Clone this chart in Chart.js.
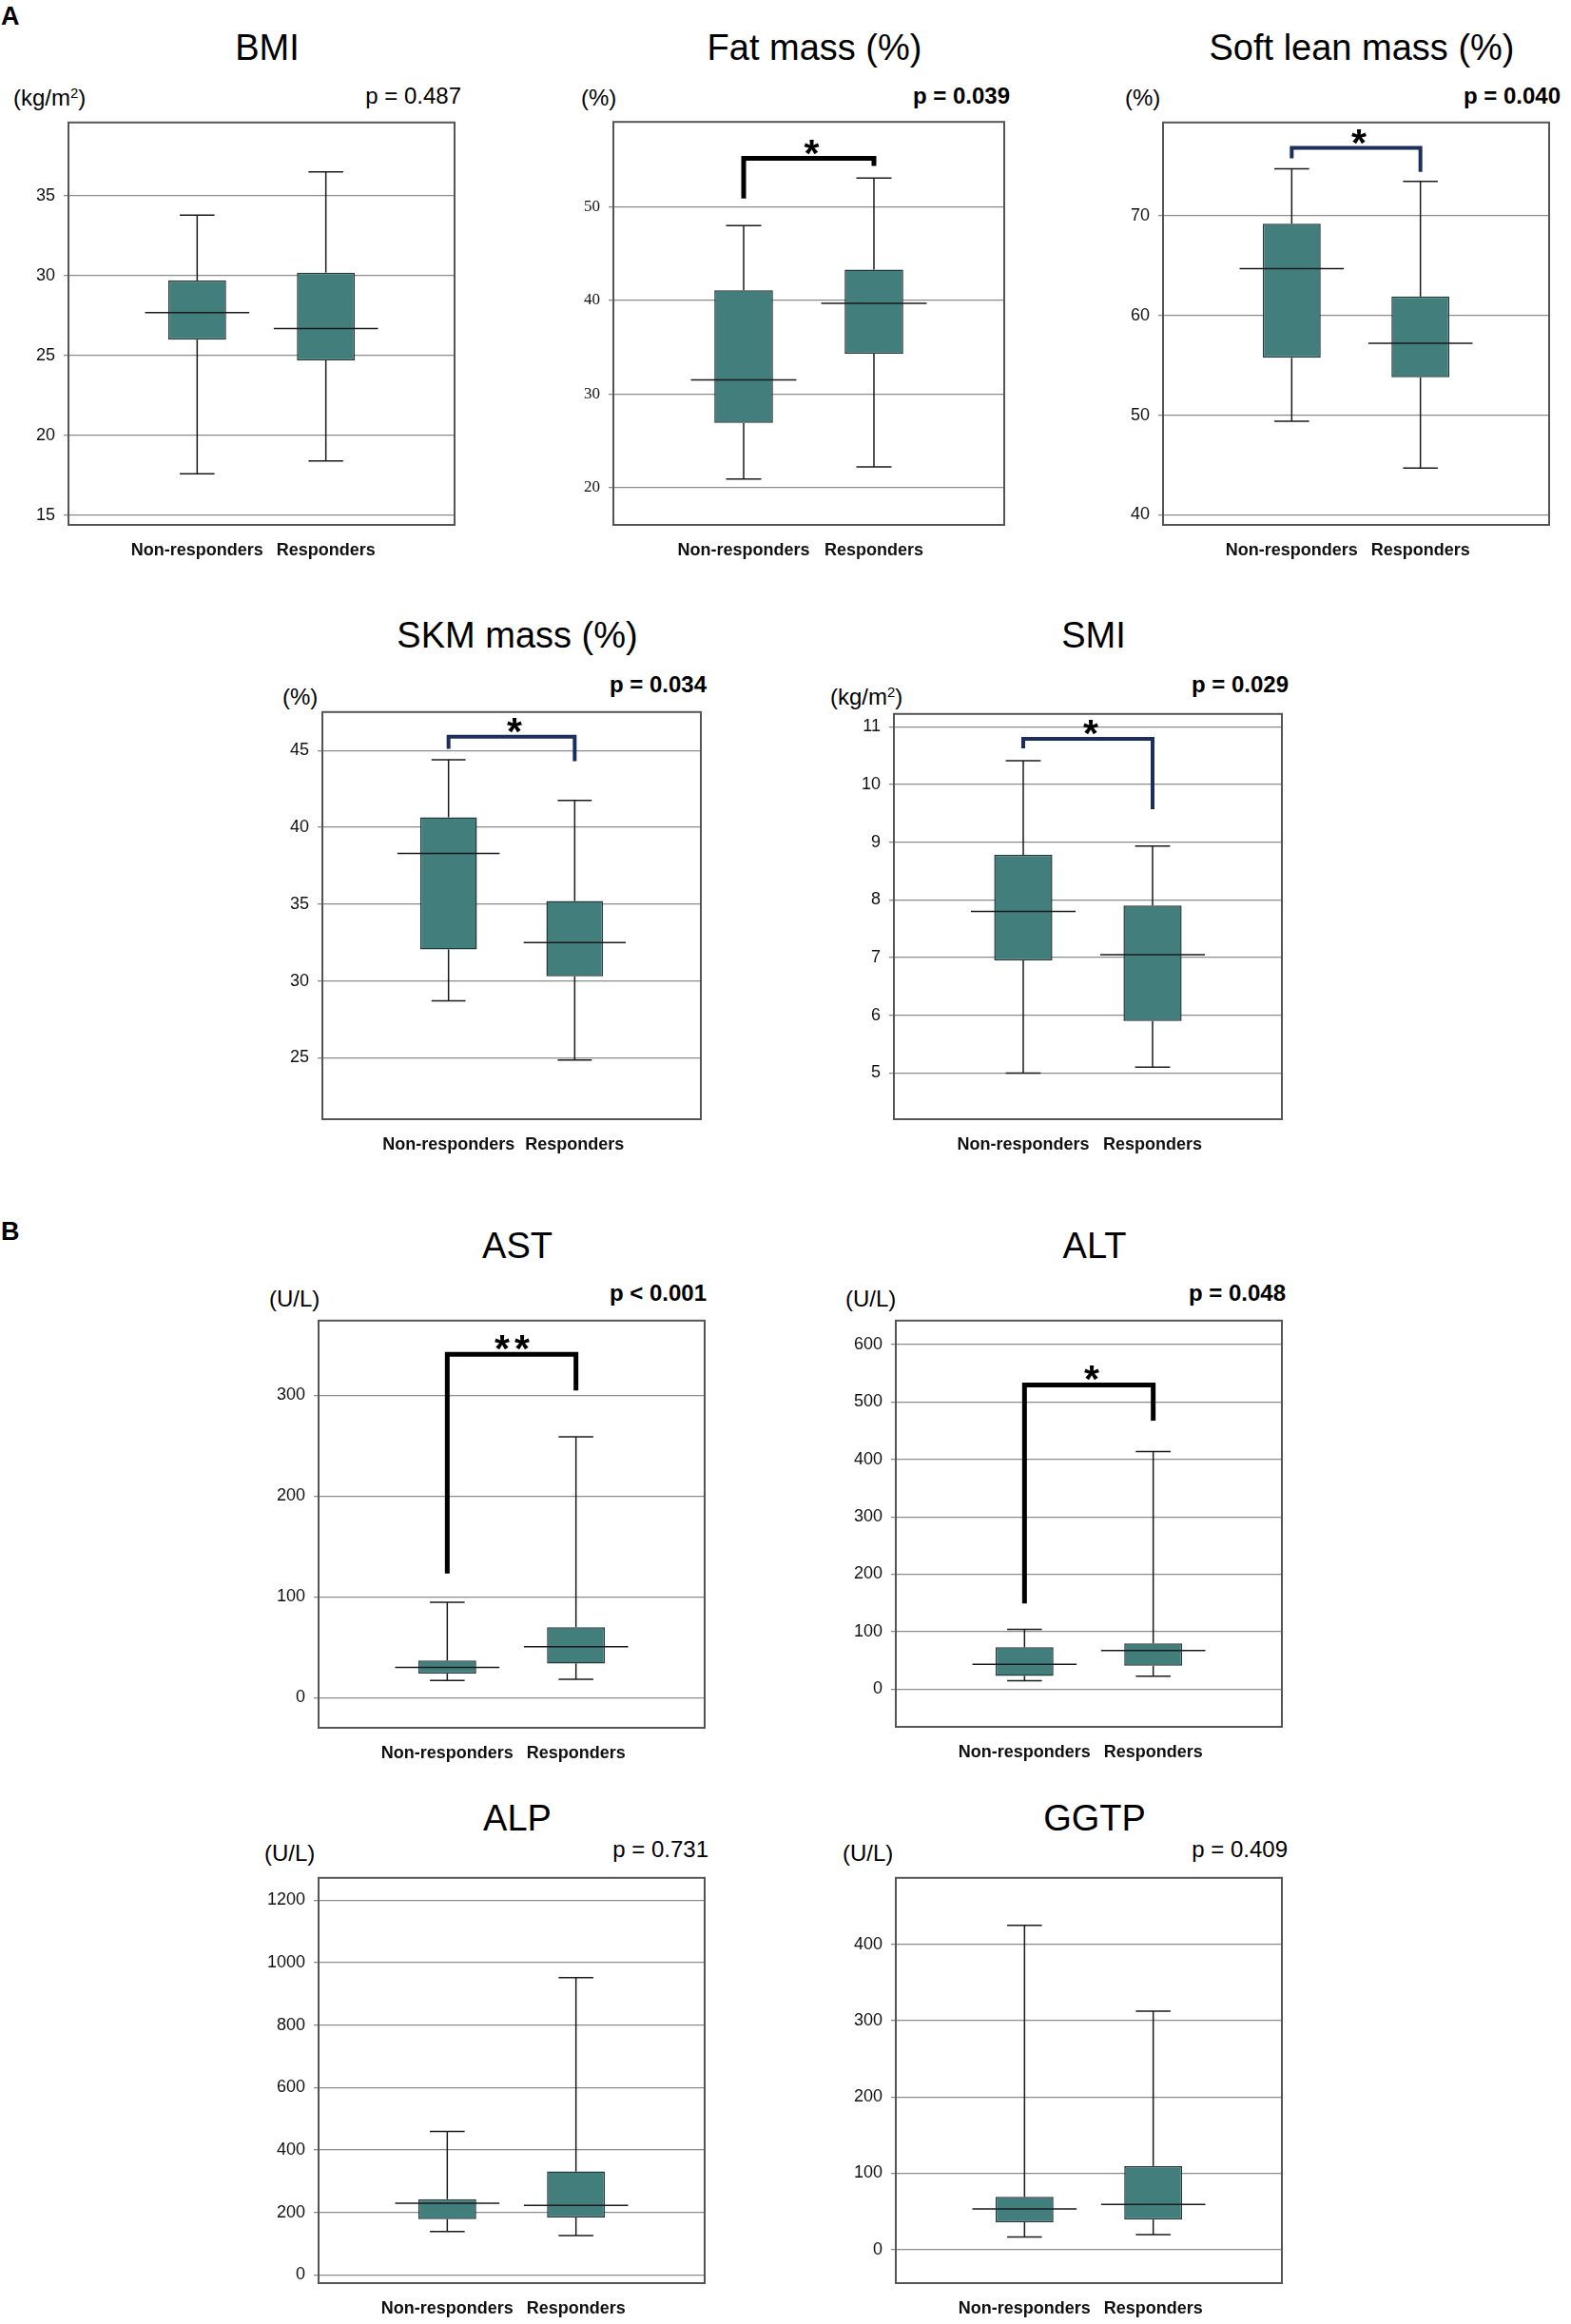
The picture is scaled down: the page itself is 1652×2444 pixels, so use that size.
<!DOCTYPE html>
<html>
<head>
<meta charset="utf-8">
<title>Body composition and liver enzymes: responders vs non-responders</title>
<script src="https://cdn.jsdelivr.net/npm/chart.js@4.4.0/dist/chart.umd.min.js"></script>
<style>
  body { margin: 0; background: #fff; width: 1652px; height: 2444px; position: relative; overflow: hidden;
         font-family: "Liberation Sans", Arial, sans-serif; color: #000; }
  .t { position: absolute; white-space: nowrap; line-height: 1; }
  .t sup { font-size: 0.62em; line-height: 0; vertical-align: 0.55em; }
  .title { font-size: 38px; transform: translate(-50%, -50%); }
  .unit { font-size: 24px; transform: translateY(-50%); }
  .pval { font-size: 24px; transform: translate(-100%, -50%); }
  .pval.sig { font-weight: bold; }
  .letter { font-size: 27px; font-weight: bold; }
  canvas { position: absolute; }
</style>
</head>
<body>
<div class="t letter" style="left:1px;top:4px">A</div>
<div class="t letter" style="left:1px;top:1282px">B</div>
<script>
// group labels
const groups = ['Non-responders', 'Responders'];

// five-number summaries: [min, Q1, median, Q3, max]
const bmiNon = [17.6, 26.0, 27.7, 29.7, 33.8];
const bmiResp = [18.4, 24.7, 26.7, 30.2, 36.5];
const bmiTicks = [15, 20, 25, 30, 35];
const bmiRange = [14.4, 39.6];

const fatNon = [20.9, 26.9, 31.5, 41.1, 48.0];
const fatResp = [22.2, 34.3, 39.7, 43.3, 53.1];
const fatTicks = [20, 30, 40, 50];
const fatRange = [16.0, 59.1];
// bracket: [left foot, bar, right foot]
const fatBracket = [50.9, 55.2, 54.4];

const leanNon = [49.4, 55.75, 64.7, 69.2, 74.7];
const leanResp = [44.7, 53.8, 57.2, 61.9, 73.45];
const leanTicks = [40, 50, 60, 70];
const leanRange = [39.0, 79.35];
const leanBracket = [75.75, 76.8, 74.4];

const skmNon = [28.7, 32.05, 38.3, 40.65, 44.4];
const skmResp = [24.86, 30.3, 32.5, 35.2, 41.75];
const skmTicks = [25, 30, 35, 40, 45];
const skmRange = [21.0, 47.5];
const skmBracket = [45.1, 45.9, 44.3];

const smiNon = [5.0, 6.95, 7.8, 8.78, 10.41];
const smiResp = [5.1, 5.9, 7.05, 7.9, 8.93];
const smiTicks = [5, 6, 7, 8, 9, 10, 11];
const smiRange = [4.2, 11.22];
const smiBracket = [10.625, 10.79, 9.57];

const astNon = [16.9, 23.7, 29.9, 36.7, 94.6];
const astResp = [18.0, 33.8, 50.4, 69.8, 258.6];
const astTicks = [0, 100, 200, 300];
const astRange = [-30, 374];
const astBracket = [123, 340.6, 304.7];

const altNon = [14.5, 22.7, 42.9, 72.6, 104];
const altResp = [22.1, 40.4, 66.9, 79.5, 413.9];
const altTicks = [0, 100, 200, 300, 400, 500, 600];
const altRange = [-66, 642];
const altBracket = [148.9, 530, 467.5];

const alpNon = [139, 179, 229.8, 243, 459.7];
const alpResp = [126, 184.5, 223, 331.5, 952.5];
const alpTicks = [0, 200, 400, 600, 800, 1000, 1200];
const alpRange = [-26, 1272];

const ggtpNon = [16.3, 35.7, 53.3, 69.2, 424.9];
const ggtpResp = [19.4, 39.3, 59.2, 109.4, 312.3];
const ggtpTicks = [0, 100, 200, 300, 400];
const ggtpRange = [-44, 487];

const SANS = '"Liberation Sans", Arial, sans-serif';
const SERIF = '"Liberation Serif", "Times New Roman", serif';
const BOX_FILL = '#427f7c';
const NAVY = '#1c2f5c';

// plot box [left, top, width, height] and text anchors for each panel
const panels = [
  { title: 'BMI', unit: '(kg/m<sup>2</sup>)', p: 'p = 0.487', sig: false,
    non: bmiNon, resp: bmiResp, ticks: bmiTicks, range: bmiRange,
    box: [72, 123, 418, 429], titleY: 50, unitX: 14, unitY: 103, pX: 485, pY: 101 },
  { title: 'Fat mass (%)', unit: '(%)', p: 'p = 0.039', sig: true, serif: true,
    non: fatNon, resp: fatResp, ticks: fatTicks, range: fatRange,
    bracket: fatBracket, stars: 1, bracketColor: '#000', bracketWidth: 5,
    box: [645, 123, 423, 429], titleY: 50, unitX: 611, unitY: 103, pX: 1062, pY: 101 },
  { title: 'Soft lean mass (%)', unit: '(%)', p: 'p = 0.040', sig: true,
    non: leanNon, resp: leanResp, ticks: leanTicks, range: leanRange,
    bracket: leanBracket, stars: 1, bracketColor: NAVY, bracketWidth: 4,
    box: [1223, 123, 418, 429], titleY: 50, unitX: 1183, unitY: 103, pX: 1641, pY: 101 },
  { title: 'SKM mass (%)', unit: '(%)', p: 'p = 0.034', sig: true,
    non: skmNon, resp: skmResp, ticks: skmTicks, range: skmRange,
    bracket: skmBracket, stars: 1, bracketColor: NAVY, bracketWidth: 4,
    box: [339, 743, 410, 434], titleY: 668, unitX: 297, unitY: 733, pX: 743, pY: 720 },
  { title: 'SMI', unit: '(kg/m<sup>2</sup>)', p: 'p = 0.029', sig: true,
    non: smiNon, resp: smiResp, ticks: smiTicks, range: smiRange,
    bracket: smiBracket, stars: 1, bracketColor: NAVY, bracketWidth: 4,
    box: [940, 745, 420, 432], titleY: 668, unitX: 873, unitY: 733, pX: 1355, pY: 720 },
  { title: 'AST', unit: '(U/L)', p: 'p &lt; 0.001', sig: true,
    non: astNon, resp: astResp, ticks: astTicks, range: astRange,
    bracket: astBracket, stars: 2, bracketColor: '#000', bracketWidth: 5,
    box: [335, 1383, 418, 434], titleY: 1310, unitX: 283, unitY: 1366, pX: 743, pY: 1360 },
  { title: 'ALT', unit: '(U/L)', p: 'p = 0.048', sig: true,
    non: altNon, resp: altResp, ticks: altTicks, range: altRange,
    bracket: altBracket, stars: 1, bracketColor: '#000', bracketWidth: 5,
    box: [942, 1383, 418, 433], titleY: 1310, unitX: 889, unitY: 1366, pX: 1352, pY: 1360 },
  { title: 'ALP', unit: '(U/L)', p: 'p = 0.731', sig: false,
    non: alpNon, resp: alpResp, ticks: alpTicks, range: alpRange,
    box: [335, 1969, 418, 432], titleY: 1912, unitX: 278, unitY: 1949, pX: 745, pY: 1945 },
  { title: 'GGTP', unit: '(U/L)', p: 'p = 0.409', sig: false,
    non: ggtpNon, resp: ggtpResp, ticks: ggtpTicks, range: ggtpRange,
    box: [942, 1969, 418, 432], titleY: 1912, unitX: 886, unitY: 1949, pX: 1354, pY: 1945 }
];

const AXW = 70;   // room for the y tick labels
const PADT = 14;  // room above the plot box
const PADR = 4;
const XAH = 56;   // room for the x labels

function addText(cls, html, x, y) {
  var d = document.createElement('div');
  d.className = 't ' + cls;
  d.innerHTML = html;
  d.style.left = x + 'px';
  d.style.top = y + 'px';
  document.body.appendChild(d);
}

function line(ctx, x1, y1, x2, y2) {
  ctx.beginPath();
  ctx.moveTo(x1, y1);
  ctx.lineTo(x2, y2);
  ctx.stroke();
}

function makePanel(pn) {
  var bx = pn.box[0], by = pn.box[1], bw = pn.box[2], bh = pn.box[3];

  addText('title', pn.title, bx + bw / 2, pn.titleY);
  addText('unit', pn.unit, pn.unitX, pn.unitY);
  addText('pval' + (pn.sig ? ' sig' : ''), pn.p, pn.pX, pn.pY);

  var W = bw + AXW + PADR, H = bh + PADT + XAH;
  var canvas = document.createElement('canvas');
  canvas.width = W;
  canvas.height = H;
  canvas.style.left = (bx - AXW) + 'px';
  canvas.style.top = (by - PADT) + 'px';
  canvas.style.width = W + 'px';
  canvas.style.height = H + 'px';
  document.body.appendChild(canvas);

  // whiskers, medians, significance bracket and frame
  var boxParts = {
    id: 'boxParts',
    afterDatasetsDraw: function (chart) {
      var ctx = chart.ctx, xs = chart.scales.x, ys = chart.scales.y;
      var meta = chart.getDatasetMeta(0);
      var py = function (v) { return ys.getPixelForValue(v); };
      ctx.save();
      ctx.strokeStyle = '#1a1a1a';
      ctx.lineWidth = 1.5;
      [pn.non, pn.resp].forEach(function (s, i) {
        var bar = meta.data[i + 1];
        var cx = bar.x, w = bar.width;
        line(ctx, cx, py(s[4]), cx, py(s[3]));
        line(ctx, cx, py(s[1]), cx, py(s[0]));
        line(ctx, cx - w * 0.3, py(s[4]), cx + w * 0.3, py(s[4]));
        line(ctx, cx - w * 0.3, py(s[0]), cx + w * 0.3, py(s[0]));
        line(ctx, cx - w * 0.9, py(s[2]), cx + w * 0.9, py(s[2]));
      });

      if (pn.bracket) {
        var b = pn.bracket;
        var xl = xs.getPixelForValue(1), xr = xs.getPixelForValue(2);
        ctx.strokeStyle = pn.bracketColor;
        ctx.lineWidth = pn.bracketWidth;
        ctx.lineJoin = 'miter';
        ctx.lineCap = 'butt';
        ctx.beginPath();
        ctx.moveTo(xl, py(b[0]));
        ctx.lineTo(xl, py(b[1]));
        ctx.lineTo(xr, py(b[1]));
        ctx.lineTo(xr, py(b[2]));
        ctx.stroke();

        ctx.fillStyle = '#000';
        ctx.font = 'bold 41px ' + SANS;
        ctx.textAlign = 'center';
        ctx.textBaseline = 'alphabetic';
        var mid = (xl + xr) / 2, yb = py(b[1]) + 8;
        if (pn.stars === 2) {
          ctx.fillText('*', mid - 10, yb);
          ctx.fillText('*', mid + 11, yb);
        } else {
          ctx.fillText('*', mid + 3, yb);
        }
      }

      var a = chart.chartArea;
      ctx.strokeStyle = '#555';
      ctx.lineWidth = 2;
      ctx.strokeRect(a.left, a.top, a.right - a.left, a.bottom - a.top);
      ctx.restore();
    }
  };

  new Chart(canvas, {
    type: 'bar',
    data: {
      labels: [''].concat(groups, ['']),
      datasets: [{
        label: pn.title,
        data: [null, [pn.non[1], pn.non[3]], [pn.resp[1], pn.resp[3]], null],
        backgroundColor: BOX_FILL,
        borderColor: '#24393a',
        borderWidth: 1.5,
        borderSkipped: false,
        barPercentage: 0.45,
        categoryPercentage: 1
      }]
    },
    options: {
      responsive: false,
      animation: false,
      devicePixelRatio: 1,
      layout: { padding: { top: PADT, right: PADR, left: 0, bottom: 0 } },
      plugins: { legend: { display: false }, tooltip: { enabled: false } },
      scales: {
        x: {
          offset: false,
          grid: { display: false, drawTicks: false },
          border: { display: false },
          ticks: {
            autoSkip: false, maxRotation: 0, padding: 16, color: '#111',
            font: { family: SANS, size: 18, weight: 'bold' }
          },
          afterFit: function (s) { s.height = XAH; }
        },
        y: {
          min: pn.range[0],
          max: pn.range[1],
          afterBuildTicks: function (s) {
            s.ticks = pn.ticks.map(function (v) { return { value: v }; });
          },
          grid: { color: '#8c8c8c', lineWidth: 1.3, tickLength: 5 },
          border: { display: false },
          ticks: {
            padding: 9, color: '#111',
            font: { family: pn.serif ? SERIF : SANS, size: pn.serif ? 17 : 18 },
            callback: function (v) { return String(v); }
          },
          afterFit: function (s) { s.width = AXW; }
        }
      }
    },
    plugins: [boxParts]
  });
}

panels.forEach(makePanel);
</script>
</body>
</html>
